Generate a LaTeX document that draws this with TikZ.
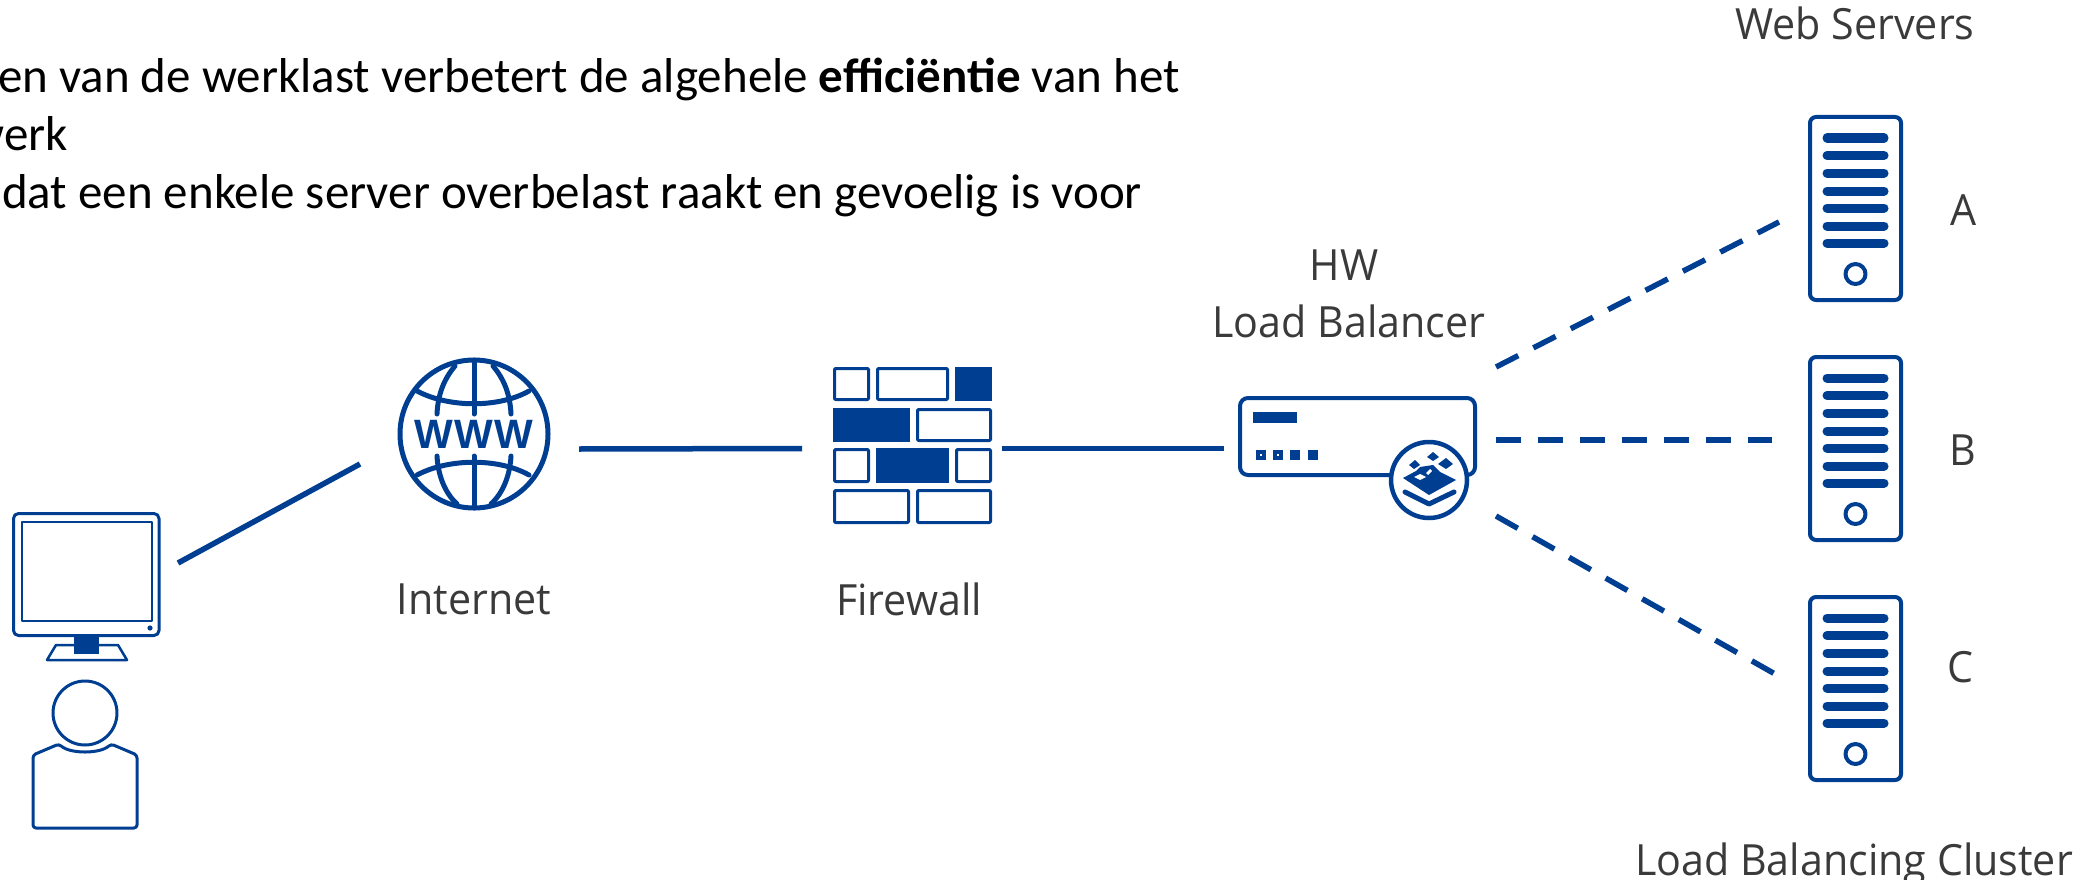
\documentclass[tikz,border=0pt]{standalone}
\usepackage{fontspec}
\setmainfont{Open Sans}
\newfontfamily\topfont{Carlito}
\newfontfamily\labelfont[FakeStretch=0.958]{Open Sans}
\newfontfamily\wwwfont[LetterSpace=4]{Liberation Sans}
\definecolor{netblue}{HTML}{003E92}
\definecolor{labelgray}{HTML}{3A3A3A}
\tikzset{
  icon/.style={draw=netblue,line width=#1,line join=round},
  icon/.default=3pt,
  port/.style={inner sep=0pt,outer sep=0pt,draw=none,minimum width=#1},
  wire/.style={draw=netblue,line width=5.5pt},
  dashwire/.style={draw=netblue,line width=5.5pt,dash pattern=on 25pt off 17pt},
  label/.style={text=labelgray,font=\labelfont\fontsize{43}{50}\selectfont,anchor=base,inner sep=0pt},
  bodytext/.style={text=black,font=\topfont\fontsize{49}{57}\selectfont,anchor=base east,inner sep=0pt},
}
\newcommand{\serverat}[2]{%
  \begin{scope}[shift={(#1,#2)}]
    \draw[icon=4pt,rounded corners=6pt] (2,2) rectangle (93,185);
    \foreach \yy in {23,40.5,58,76,93,111,128}
      \draw[netblue,line width=9pt,line cap=round] (19,\yy) -- (76,\yy);
    \draw[icon=4pt] (47.5,159) circle[radius=10pt];
  \end{scope}}
\begin{document}
\begin{tikzpicture}[x=1pt,y=-1pt]
\useasboundingbox (0,0) rectangle (2095,880);

% text block
\node[bodytext] (t1) at (1180,93) {en van de werklast verbetert de algehele {\bfseries efficiëntie} van het};
\node[bodytext] (t2) at (68,150) {werk};
\node[bodytext] (t3) at (1142,208) {dat een enkele server overbelast raakt en gevoelig is voor};

% anchors for the connectors
\node[port=166pt,minimum height=77pt,anchor=north east] (pc) at (178,563) {};
\node[port=219pt,minimum height=30pt] (www) at (469.5,449) {};
\node[port=200pt,minimum height=30pt] (fw) at (902,448.5) {};
\node[port=272pt,minimum height=149pt] (lb) at (1360,441.5) {};
\node[port=124pt,minimum height=28pt] (srvA) at (1841,222) {};
\node[port=131pt,minimum height=28pt] (srvB) at (1837.5,440) {};
\node[port=128pt,minimum height=28pt] (srvC) at (1839,674) {};

% connectors
\draw[wire] (pc.north east) -- (www.south west);
\draw[wire] (www.east) -- (fw.west);
\draw[wire] (fw.east) -- (fw.east -| lb.west);
\draw[dashwire] (lb.north east) -- (srvA.west);
\draw[dashwire] (lb.east |- srvB.west) -- (srvB.west);
\draw[dashwire] (lb.south east) -- (srvC.west);

% computer
\draw[icon=3pt,rounded corners=5pt] (13.5,513.5) rectangle (159,635.5);
\draw[icon=2.5pt] (22,522) rectangle (152,621);
\fill[netblue] (150,628) circle[radius=2.6pt];
\draw[icon=2.5pt] (47,660) -- (56,645) -- (118,645) -- (127,660) -- cycle;
\fill[netblue] (74,636) rectangle (99,654);
\draw[icon=3pt] (85,713) circle[radius=32pt];
\draw[icon=3pt,rounded corners=3pt] (59,744) .. controls (70,754) and (100,754) .. (111,744)
  -- (137,755) -- (137,828) -- (33,828) -- (33,755) -- cycle;

% globe
\begin{scope}[shift={(474,434)},netblue,line cap=round]
  \draw[icon=5pt] (0,0) circle[radius=74pt];
  \draw[icon=5pt] (0,-74) -- (0,-20) (0,22) -- (0,74);
  \draw[icon=5pt] (-57,-43) .. controls (-25,-26) and (25,-26) .. (55,-43);
  \draw[icon=5pt] (-57,41) .. controls (-25,24) and (25,24) .. (55,41);
  \draw[icon=5pt] (-19,-68) .. controls (-30,-55) and (-36,-40) .. (-37,-20);
  \draw[icon=5pt] (19,-68) .. controls (30,-55) and (36,-40) .. (37,-20);
  \draw[icon=5pt] (-37,22) .. controls (-36,40) and (-30,58) .. (-17,70);
  \draw[icon=5pt] (37,22) .. controls (36,40) and (30,58) .. (17,70);
  \node[text=netblue,inner sep=0pt,font=\wwwfont\bfseries\fontsize{41}{41}\selectfont] (wwwtext) at (0,0) {WWW};
\end{scope}

% firewall
\foreach \xa/\xb/\ya/\yb in {833/870/367/401,876/949/367/401,916/992/408/442,833/870/448/483,955/992/448/483,833/910/489/524,916/992/489/524}
  \draw[icon=3pt,rounded corners=1pt] (\xa+1.5,\ya+1.5) rectangle (\xb-1.5,\yb-1.5);
\foreach \xa/\xb/\ya/\yb in {955/992/367/401,833/910/408/442,876/949/448/483}
  \fill[netblue] (\xa,\ya) rectangle (\xb,\yb);

% load balancer
\draw[icon=4pt,rounded corners=8pt] (1240,398) rectangle (1475,475);
\fill[netblue] (1253,412) rectangle (1297,423);
\foreach \xx in {1256,1273,1290,1308}
  \fill[netblue] (\xx,450) rectangle (\xx+10,460);
\fill[white] (1260,454) rectangle (1262,456);
\fill[white] (1277,454) rectangle (1279,456);
\begin{scope}[shift={(1429,480)}]
  \draw[icon=4.5pt,fill=white] (0,0) circle[radius=38pt];
  \fill[netblue] (-26,-2) -- (-13,-9) -- (-9,-13) -- (4,-15) -- (11,-8) -- (27,0) -- (0,15) -- cycle;
  \fill[white] (-9,-6) -- (-3,-3) -- (-9,0) -- (-15,-3) -- cycle;
  \fill[white] (-3,-7) -- (1,-11) -- (3,-9) -- (-1,-5) -- cycle;
  \fill[netblue] (4,-28) -- (10,-23) -- (4,-19) -- (-2,-23) -- cycle;
  \fill[netblue] (17,-22) -- (24,-16) -- (17,-11) -- (9,-16) -- cycle;
  \fill[netblue] (-14,-20) -- (-9,-15) -- (-15,-11) -- (-20,-15) -- cycle;
  \draw[netblue,line width=5pt,line cap=round,line join=round] (-24,12) -- (0,24) -- (25,12);
\end{scope}

% servers
\serverat{1808}{115}
\serverat{1808}{355}
\serverat{1808}{595}

% labels
\node[label] (lbweb) at (1855,40) {Web Servers};
\node[label] (lba) at (1964,225) {A};
\node[label] (lbb) at (1963,465) {B};
\node[label] (lbc) at (1960,682) {C};
\node[label] (lbhw) at (1344,280) {HW};
\node[label] (lblb) at (1349,337) {Load Balancer};
\node[label] (lbin) at (474,614) {Internet};
\node[label] (lbfw) at (909,615) {Firewall};
\node[label] (lbcl) at (1854,875) {Load Balancing Cluster};
\end{tikzpicture}
\end{document}
